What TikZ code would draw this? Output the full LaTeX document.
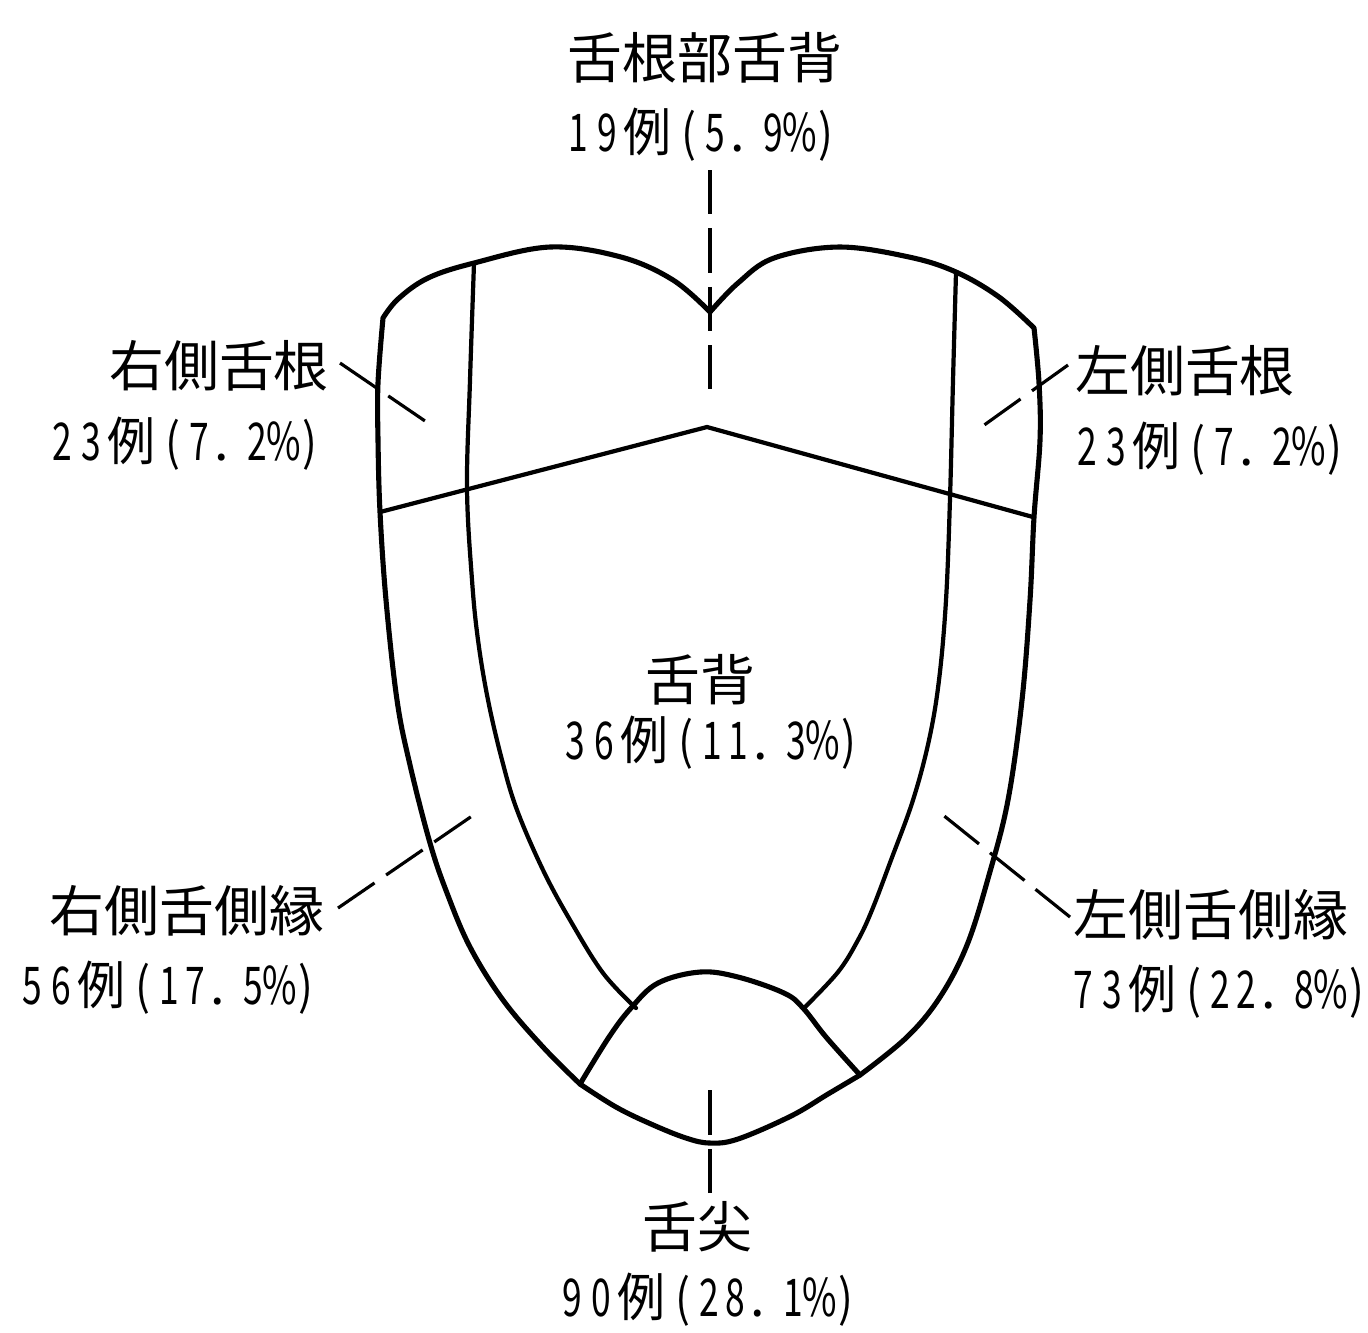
\documentclass[tikz,border=0pt]{standalone}
\usepackage{graphicx}
\usepackage{fontspec}
\newfontfamily\jpfont{Noto Sans CJK JP}

% monospaced, narrow figures for the case counts
\newlength\dcell \setlength\dcell{0.29cm}
\newlength\pcell \setlength\pcell{0.26cm}
\newlength\dotcell \setlength\dotcell{0.18cm}
\newcommand\numglyph[1]{%
  \ifx#1(\scalebox{0.85}[0.97]{(}%
  \else\ifx#1)\scalebox{0.85}[0.97]{)}%
  \else\ifx#1\%\scalebox{0.72}[1]{\%}%
  \else\scalebox{0.68}[1]{#1}\fi\fi\fi}
\def\dcells#1{\dcellsi#1\relax}
\def\dcellsi#1{\ifx#1\relax\else\makebox[\dcell][c]{\numglyph{#1}}\expandafter\dcellsi\fi}
\def\pcells#1{\pcellsi#1\relax}
\def\pcellsi#1{\ifx#1\relax\else
  \ifx#1~\hspace{0.14cm}%
  \else\ifx#1.\makebox[\dotcell][c]{.}%
  \else\makebox[\pcell][c]{\numglyph{#1}}\fi\fi
  \expandafter\pcellsi\fi}
\newcommand\countline[2]{\dcells{#1}\hspace{0.02cm}\scalebox{0.92}[1]{例}\hspace{0.05cm}\pcells{#2}}

\begin{document}
\begin{tikzpicture}[x=0.01cm,y=-0.01cm,
  outline/.style={line width=1.45pt, line join=round, line cap=round},
  divider/.style={line width=1.2pt, line join=round, line cap=round},
  leader/.style={line width=0.9pt, dash pattern=on 12.6pt off 4pt},
  region/.style={font=\jpfont\fontsize{15.6pt}{18pt}\selectfont, inner sep=0pt},
  count/.style={font=\jpfont\fontsize{14.8pt}{18pt}\selectfont, inner sep=0pt},
]
\useasboundingbox (0,0) rectangle (1368,1332);

% key points of the tongue outline
\coordinate (VL) at (380,512);
\coordinate (VA) at (707,427);
\coordinate (VR) at (1033,517);

% outer contour
\draw[outline]
  plot[smooth, tension=0.6] coordinates {(383,318) (398,299) (428,278) (474,263) (550,247) (621,257) (673,280) (710,312)}
  -- plot[smooth, tension=0.6] coordinates {(710,312) (738,283) (774,258) (839,247) (909,257) (956,272) (999,297) (1034,328)}
  -- plot[smooth, tension=0.6] coordinates {(1034,328) (1039,383) (1040,440) (1034,517) (1030,600) (1022,700) (1008,800) (989,875) (967,945) (940,997) (907,1037) (860,1075)}
  -- plot[smooth, tension=0.6] coordinates {(860,1075) (828,1094) (791,1116) (738,1139) (710,1143) (686,1138) (651,1124) (616,1107) (580,1084)}
  -- plot[smooth, tension=0.6] coordinates {(580,1084) (543,1047) (503,1000) (470,947) (447,893) (430,843) (410,765) (397,700) (386,600) (380,512) (378,440) (378,383) (383,318)}
  -- cycle;

% root / dorsum boundary
\draw[divider] (VL) -- (VA) -- (VR);

% lateral border lines
\draw[divider] plot[smooth, tension=0.6] coordinates {(474,263) (470,380) (467,488) (472,580) (478,640) (488,700) (502,760) (517,810) (543,870) (570,920) (603,973) (636,1008)};
\draw[divider] plot[smooth, tension=0.6] coordinates {(956,272) (953,380) (950,498) (946,600) (939,680) (929,740) (913,800) (891,860) (872,910) (858,940) (838,972) (804,1008)};

% tip region
\draw[outline] plot[smooth, tension=0.6] coordinates {(580,1084) (609,1037) (631,1008) (658,983) (700,972) (738,977) (784,993) (803,1008) (826,1037) (860,1075)};

% labels
\node[region] (root-name) at (705,58) {舌根部舌背};
\node[count] (root-count) at (701,135) {\countline{19}{(5.~9\%)}};
\node[region] (rroot-name) at (219,366) {右側舌根};
\node[count] (rroot-count) at (185,444) {\countline{23}{(7.~2\%)}};
\node[region] (lroot-name) at (1185,371) {左側舌根};
\node[count] (lroot-count) at (1210,449) {\countline{23}{(7.~2\%)}};
\node[region] (dorsum-name) at (700,680) {舌背};
\node[count] (dorsum-count) at (711,743) {\countline{36}{(11.~3\%)}};
\node[region] (redge-name) at (187,911) {右側舌側縁};
\node[count] (redge-count) at (168,988) {\countline{56}{(17.~5\%)}};
\node[region] (ledge-name) at (1211,915) {左側舌側縁};
\node[count] (ledge-count) at (1219,992) {\countline{73}{(22.~8\%)}};
\node[region] (tip-name) at (697,1227) {舌尖};
\node[count] (tip-count) at (708,1300) {\countline{90}{(28.~1\%)}};

% leader ends
\coordinate (root-a) at (710,170);   \coordinate (root-b) at (710,393);
\coordinate (rroot-a) at (340,363);  \coordinate (rroot-b) at (428,423);
\coordinate (lroot-a) at (1068,365); \coordinate (lroot-b) at (980,428);
\coordinate (redge-a) at (338,908);  \coordinate (redge-b) at (472,816);
\coordinate (ledge-a) at (1070,917); \coordinate (ledge-b) at (943,815);
\coordinate (tip-a) at (710,1193);   \coordinate (tip-b) at (710,1090);

\draw[leader] (root-a) -- (root-b);
\draw[leader] (rroot-a) -- (rroot-b);
\draw[leader] (lroot-a) -- (lroot-b);
\draw[leader] (redge-a) -- (redge-b);
\draw[leader] (ledge-a) -- (ledge-b);
\draw[leader] (tip-a) -- (tip-b);
\end{tikzpicture}
\end{document}
